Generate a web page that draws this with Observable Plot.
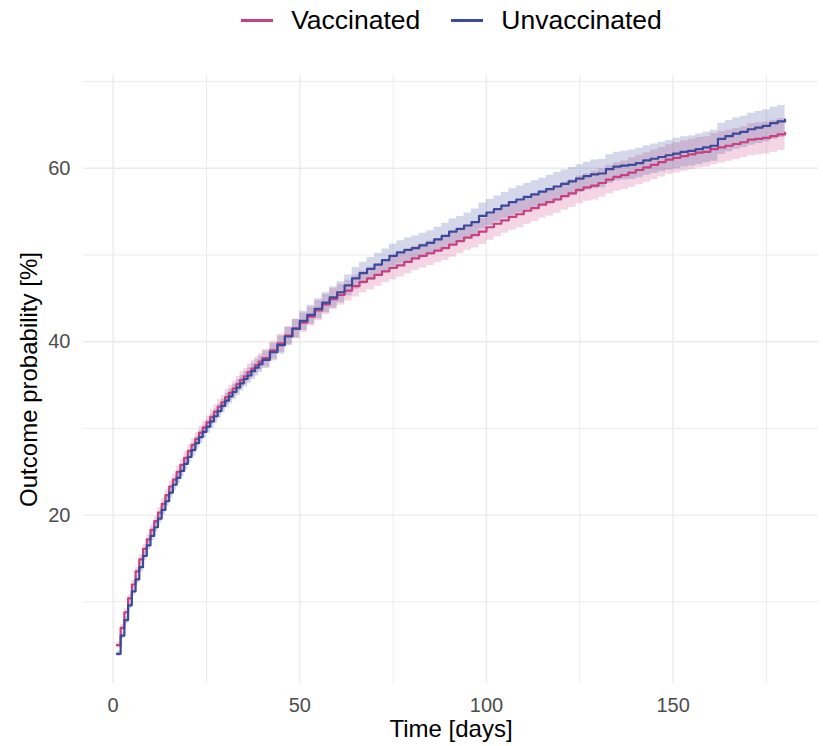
<!DOCTYPE html>
<html>
<head>
<meta charset="utf-8">
<script src="https://cdn.jsdelivr.net/npm/d3@7"></script>
<script src="https://cdn.jsdelivr.net/npm/@observablehq/plot@0.6"></script>
<style>
  body { margin: 0; background: #fff; font-family: "Liberation Sans", Arial, Helvetica, sans-serif; }
  #legend { width: 823px; height: 40px; box-sizing: border-box; padding-left: 80px; display: flex; align-items: center; justify-content: center; font-size: 26.5px; color: #000; }
  .item { display: flex; align-items: center; }
  .key { width: 32px; height: 3px; margin-right: 18px; }
  .gap { width: 31px; }
</style>
</head>
<body>
<div id="legend"></div>
<div id="chart"></div>
<script>
// ---- data ----
const seriesNames = ["Vaccinated", "Unvaccinated"];

const days = [
  1, 2, 3, 4, 5, 6, 7, 8, 9, 10,
  11, 12, 13, 14, 15, 16, 17, 18, 19, 20,
  21, 22, 23, 24, 25, 26, 27, 28, 29, 30,
  31, 32, 33, 34, 35, 36, 37, 38, 39, 40,
  42, 44, 46, 48, 50, 52, 54, 56, 58, 60,
  62, 64, 66, 68, 70, 72, 74, 76, 78, 80,
  82, 84, 86, 88, 90, 92, 94, 96, 98, 100,
  102, 104, 106, 108, 110, 112, 114, 116, 118, 120,
  122, 124, 126, 128, 130, 132, 134, 136, 138, 140,
  142, 144, 146, 148, 150, 152, 154, 156, 158, 160,
  162, 164, 166, 168, 170, 172, 174, 176, 178, 180
];

const vaccinated = [
  5.0, 7.0, 8.8, 10.4, 12.0, 13.5, 14.9, 16.1, 17.2, 18.3,
  19.3, 20.3, 21.3, 22.3, 23.3, 24.1, 25.0, 25.8, 26.6, 27.4,
  28.1, 28.8, 29.5, 30.1, 30.7, 31.3, 31.9, 32.5, 33.0, 33.6,
  34.1, 34.6, 35.1, 35.6, 36.0, 36.5, 36.9, 37.3, 37.7, 38.1,
  39.0, 39.8, 40.7, 41.5, 42.2, 42.9, 43.6, 44.3, 44.9, 45.4,
  45.9, 46.4, 46.9, 47.3, 47.7, 48.1, 48.5, 48.8, 49.2, 49.6,
  49.9, 50.2, 50.5, 50.8, 51.2, 51.6, 52.0, 52.3, 52.7, 53.2,
  53.6, 54.0, 54.4, 54.7, 55.1, 55.4, 55.8, 56.1, 56.4, 56.8,
  57.1, 57.5, 57.8, 58.0, 58.3, 58.7, 59.0, 59.2, 59.5, 59.8,
  60.1, 60.4, 60.7, 61.0, 61.2, 61.4, 61.6, 61.8, 61.9, 62.2,
  62.4, 62.6, 62.8, 63.0, 63.3, 63.4, 63.5, 63.7, 63.9, 64.1
];

const unvaccinated = [
  4.0, 6.1, 7.9, 9.6, 11.2, 12.6, 14.0, 15.3, 16.5, 17.6,
  18.6, 19.6, 20.6, 21.6, 22.6, 23.5, 24.3, 25.1, 25.9, 26.7,
  27.5, 28.3, 29.0, 29.6, 30.2, 30.8, 31.4, 32.0, 32.6, 33.2,
  33.7, 34.2, 34.7, 35.2, 35.7, 36.1, 36.6, 37.0, 37.4, 37.9,
  38.8, 39.6, 40.6, 41.5, 42.4, 43.1, 43.8, 44.5, 45.1, 45.7,
  46.5, 47.3, 47.9, 48.4, 48.9, 49.4, 49.9, 50.3, 50.6, 50.8,
  51.1, 51.4, 51.8, 52.2, 52.7, 53.0, 53.4, 53.8, 54.5, 54.9,
  55.3, 55.7, 56.1, 56.4, 56.7, 57.0, 57.3, 57.6, 57.9, 58.2,
  58.5, 58.8, 59.1, 59.3, 59.4, 59.9, 60.2, 60.3, 60.4, 60.6,
  60.9, 61.1, 61.3, 61.5, 61.7, 61.9, 62.0, 62.2, 62.4, 62.6,
  63.4, 63.7, 64.0, 64.2, 64.5, 64.7, 64.9, 65.2, 65.4, 65.6
];

// half-width of the confidence band (percentage points)
const ciVaccinated = [
  0.3, 0.35, 0.4, 0.4, 0.45, 0.45, 0.5, 0.5, 0.5, 0.55,
  0.55, 0.55, 0.6, 0.6, 0.6, 0.65, 0.65, 0.65, 0.7, 0.7,
  0.7, 0.7, 0.75, 0.75, 0.75, 0.8, 0.8, 0.8, 0.8, 0.85,
  0.85, 0.85, 0.9, 0.9, 0.9, 0.9, 0.95, 0.95, 0.95, 1.0,
  1.0, 1.05, 1.05, 1.1, 1.1, 1.1, 1.15, 1.15, 1.2, 1.2,
  1.2, 1.25, 1.25, 1.3, 1.3, 1.3, 1.35, 1.35, 1.35, 1.4,
  1.4, 1.4, 1.4, 1.45, 1.45, 1.45, 1.45, 1.5, 1.5, 1.5,
  1.5, 1.5, 1.55, 1.55, 1.55, 1.55, 1.55, 1.6, 1.6, 1.6,
  1.6, 1.6, 1.6, 1.65, 1.65, 1.65, 1.65, 1.65, 1.7, 1.7,
  1.7, 1.7, 1.7, 1.7, 1.75, 1.75, 1.75, 1.75, 1.75, 1.8,
  1.8, 1.8, 1.8, 1.8, 1.85, 1.85, 1.85, 1.85, 1.85, 1.9
];
const ciUnvaccinated = [
  0.3, 0.35, 0.4, 0.4, 0.45, 0.45, 0.5, 0.5, 0.5, 0.55,
  0.55, 0.55, 0.6, 0.6, 0.6, 0.65, 0.65, 0.65, 0.7, 0.7,
  0.7, 0.7, 0.75, 0.75, 0.75, 0.8, 0.8, 0.8, 0.8, 0.85,
  0.85, 0.85, 0.9, 0.9, 0.9, 0.9, 0.95, 0.95, 0.95, 1.0,
  1.0, 1.05, 1.05, 1.1, 1.1, 1.1, 1.15, 1.15, 1.2, 1.2,
  1.2, 1.25, 1.25, 1.3, 1.3, 1.3, 1.35, 1.35, 1.35, 1.4,
  1.4, 1.4, 1.4, 1.45, 1.45, 1.45, 1.45, 1.5, 1.5, 1.5,
  1.5, 1.5, 1.55, 1.55, 1.55, 1.55, 1.55, 1.6, 1.6, 1.6,
  1.6, 1.6, 1.6, 1.65, 1.65, 1.65, 1.65, 1.65, 1.7, 1.7,
  1.7, 1.7, 1.7, 1.7, 1.75, 1.75, 1.75, 1.75, 1.75, 1.8,
  1.8, 1.8, 1.8, 1.8, 1.85, 1.85, 1.85, 1.85, 1.85, 1.9
];

const xTicks = [0, 50, 100, 150];
const xMinor = [25, 75, 125, 175];
const yTicks = [20, 40, 60];
const yMinor = [10, 30, 50, 70];
const xTitle = "Time [days]";
const yTitle = "Outcome probability [%]";

// ---- styles ----
const colors = {"Vaccinated": "#c8407f", "Unvaccinated": "#3b4a9b"};
const gridColor = "#ebebeb";

function build(values, ci, name) {
  return days.map((d, i) => ({day: d, est: values[i], lo: values[i] - ci[i], hi: values[i] + ci[i], group: name}));
}
const dataV = build(vaccinated, ciVaccinated, "Vaccinated");
const dataU = build(unvaccinated, ciUnvaccinated, "Unvaccinated");

// legend
const legend = d3.select("#legend");
seriesNames.forEach((name, i) => {
  if (i > 0) legend.append("div").attr("class", "gap");
  const it = legend.append("div").attr("class", "item");
  it.append("div").attr("class", "key").style("background", colors[name]);
  it.append("span").text(name);
});

const chart = Plot.plot({
  width: 823,
  height: 706,
  marginLeft: 83,
  marginRight: 5,
  marginTop: 35,
  marginBottom: 63,
  style: {fontFamily: '"Liberation Sans", Arial, Helvetica, sans-serif', fontSize: "20px", color: "#4d4d4d", background: "#fff"},
  x: {domain: [-7.95, 188.95], ticks: xTicks, tickSize: 0, tickPadding: 14, label: null},
  y: {domain: [0.58, 70.7], ticks: yTicks, tickSize: 0, tickPadding: 13, label: null},
  marks: [
    Plot.ruleX(xMinor, {stroke: gridColor, strokeWidth: 1}),
    Plot.ruleY(yMinor, {stroke: gridColor, strokeWidth: 1}),
    Plot.ruleX(xTicks, {stroke: gridColor, strokeWidth: 1.4}),
    Plot.ruleY(yTicks, {stroke: gridColor, strokeWidth: 1.4}),
    Plot.areaY(dataV, {x: "day", y1: "lo", y2: "hi", fill: colors["Vaccinated"], fillOpacity: 0.22, curve: "step-after"}),
    Plot.areaY(dataU, {x: "day", y1: "lo", y2: "hi", fill: colors["Unvaccinated"], fillOpacity: 0.22, curve: "step-after"}),
    Plot.lineY(dataV, {x: "day", y: "est", stroke: colors["Vaccinated"], strokeWidth: 2.2, curve: "step-after"}),
    Plot.lineY(dataU, {x: "day", y: "est", stroke: colors["Unvaccinated"], strokeWidth: 2.2, curve: "step-after"}),
    Plot.text([xTitle], {frameAnchor: "bottom", dy: 46, text: d => d, fontSize: 24, fill: "#000", textAnchor: "middle", lineAnchor: "middle"}),
    Plot.text([yTitle], {frameAnchor: "left", dx: -54, text: d => d, fontSize: 24, fill: "#000", rotate: -90, textAnchor: "middle", lineAnchor: "middle"})
  ]
});
document.getElementById("chart").appendChild(chart);
</script>
</body>
</html>
